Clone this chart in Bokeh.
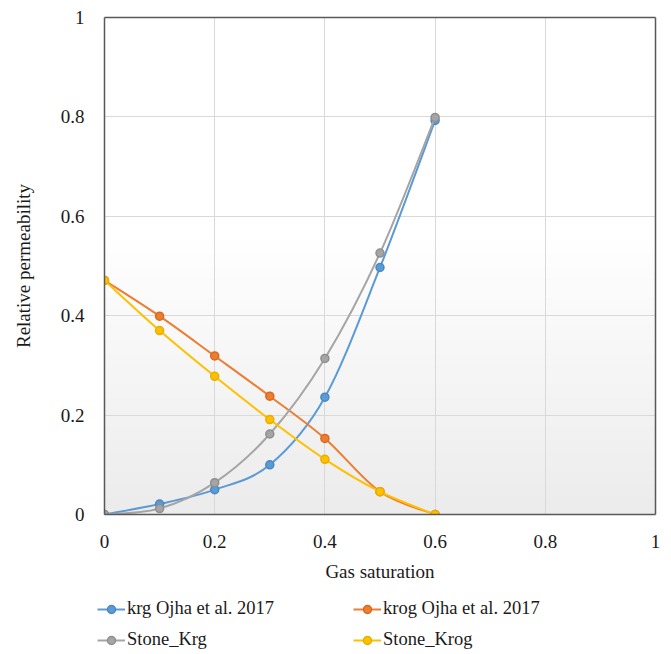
import numpy as np
from bokeh.plotting import figure
from bokeh.layouts import column
from bokeh.models import FixedTicker, Legend, LegendItem, Range1d, LinearAxis
from bokeh.embed import file_html
from bokeh.resources import INLINE

# Relative permeability vs gas saturation
gas_saturation = [0.0, 0.1, 0.2, 0.3, 0.4, 0.5, 0.6]
krg_ojha = [0.0, 0.021, 0.050, 0.100, 0.236, 0.497, 0.793]
krog_ojha = [0.471, 0.399, 0.319, 0.238, 0.153, 0.046, 0.0]
stone_krg = [0.0, 0.012, 0.064, 0.162, 0.314, 0.526, 0.799]
stone_krog = [0.471, 0.370, 0.278, 0.191, 0.111, 0.046, 0.0]

series_names = ["krg Ojha et al. 2017", "krog Ojha et al. 2017", "Stone_Krg", "Stone_Krog"]
series_values = [krg_ojha, krog_ojha, stone_krg, stone_krog]

tick_values = [0, 0.2, 0.4, 0.6, 0.8, 1]
tick_labels = ["0", "0.2", "0.4", "0.6", "0.8", "1"]

colors = ["#5B9BD5", "#ED7D31", "#A5A5A5", "#FFC000"]
edge_colors = ["#4A88C2", "#D86A20", "#8F8F8F", "#E8AE00"]
FONT = "Liberation Serif"
FS = "19px"

p = figure(width=671, height=584, output_backend="svg", toolbar_location=None,
           x_range=Range1d(0, 1), y_range=Range1d(0, 1),
           min_border_left=104, min_border_right=16,
           min_border_top=17, min_border_bottom=69)
p.background_fill_color = "white"
p.border_fill_color = "white"
p.outline_line_color = None
ax_x = p.xaxis[0]
ax_y = p.yaxis[0]

# soft vertical shading at the bottom of the plot area
n = 64
shade = np.linspace(236, 255, n).astype(np.uint32)
img = np.zeros((n, 1), dtype=np.uint32)
view = img.view(dtype=np.uint8).reshape((n, 1, 4))
view[:, 0, 0] = shade
view[:, 0, 1] = shade
view[:, 0, 2] = shade
view[:, 0, 3] = 255
bg = p.image_rgba(image=[img], x=0, y=0, dw=1, dh=0.56)
bg.level = "image"

# frame edges on the top and right as bare axes
for side in ("right", "above"):
    edge = LinearAxis(ticker=FixedTicker(ticks=[]), axis_line_color="#595959",
                      axis_line_width=1.5, major_tick_line_color=None,
                      minor_tick_line_color=None, major_label_text_font_size="0px")
    p.add_layout(edge, side)

# axes and grid
for ax in (ax_x, ax_y):
    ax.ticker = FixedTicker(ticks=tick_values)
    ax.major_label_overrides = dict(zip(tick_values, tick_labels))
    ax.major_tick_line_color = None
    ax.minor_tick_line_color = None
    ax.axis_line_color = "#595959"
    ax.axis_line_width = 1.5
    ax.major_label_text_font = FONT
    ax.major_label_text_font_size = FS
    ax.major_label_text_color = "#1a1a1a"
    ax.major_label_standoff = 14
    ax.axis_label_text_font = FONT
    ax.axis_label_text_font_size = FS
    ax.axis_label_text_font_style = "normal"
    ax.axis_label_text_color = "#1a1a1a"

ax_x.axis_label = "Gas saturation"
ax_y.axis_label = "Relative permeability"
ax_x.axis_label_standoff = 10
ax_y.axis_label_standoff = 24
p.xgrid.ticker = FixedTicker(ticks=tick_values)
p.ygrid.ticker = FixedTicker(ticks=tick_values)
p.grid.grid_line_color = "#d9d9d9"
p.grid.grid_line_width = 1


def smooth_segments(xs, ys):
    """Cubic Bezier segments through the points (Catmull-Rom style control points)."""
    xs = list(xs)
    ys = list(ys)
    k = len(xs)
    seg = dict(x0=[], y0=[], x1=[], y1=[], cx0=[], cy0=[], cx1=[], cy1=[])
    for i in range(k - 1):
        a = max(i - 1, 0)
        b = min(i + 2, k - 1)
        seg["x0"].append(xs[i]); seg["y0"].append(ys[i])
        seg["x1"].append(xs[i + 1]); seg["y1"].append(ys[i + 1])
        seg["cx0"].append(xs[i] + (xs[i + 1] - xs[a]) / 6)
        seg["cy0"].append(ys[i] + (ys[i + 1] - ys[a]) / 6)
        seg["cx1"].append(xs[i + 1] - (xs[b] - xs[i]) / 6)
        seg["cy1"].append(ys[i + 1] - (ys[b] - ys[i]) / 6)
    return seg


for vals, col, edge in zip(series_values, colors, edge_colors):
    seg = smooth_segments(gas_saturation, vals)
    p.bezier(line_color=col, line_width=2, **seg)
    p.scatter(gas_saturation, vals, marker="circle", size=8,
              fill_color=col, line_color=edge, line_width=1.5)

# legend strip under the chart
lg = figure(width=671, height=70, output_backend="svg", toolbar_location=None,
            x_range=Range1d(0, 1), y_range=Range1d(0, 1),
            min_border_left=0, min_border_right=0, min_border_top=0,
            min_border_bottom=0, x_axis_type=None, y_axis_type=None)
lg.outline_line_color = None
lg.grid.visible = False
legend_x = -7
if "frame_align" in lg.properties():
    # keep the strip's frame at the page edge instead of under the chart frame
    lg.frame_align = False
    p.frame_align = False
    legend_x = 97

entries = {}
for name, col, edge in zip(series_names, colors, edge_colors):
    ln = lg.line([np.nan], [np.nan], line_color=col, line_width=2)
    mk = lg.scatter([np.nan], [np.nan], marker="circle", size=7,
                    fill_color=col, line_color=edge, line_width=1.5)
    entries[name] = LegendItem(label=name, renderers=[ln, mk])

# two columns, filled column by column: Ojha entries on the top row
order = [series_names[0], series_names[2], series_names[1], series_names[3]]
legend = Legend(items=[entries[k] for k in order], ncols=2, location=(legend_x, 4),
                label_text_font=FONT, label_text_font_size="18.5px",
                label_text_color="#1a1a1a",
                glyph_width=28, glyph_height=20, label_height=20,
                label_standoff=2, label_width=216, spacing=10,
                padding=0, margin=0,
                border_line_color=None, background_fill_alpha=0)
lg.add_layout(legend, "center")

open("out.html", "w").write(file_html(column(p, lg, spacing=0), INLINE))
